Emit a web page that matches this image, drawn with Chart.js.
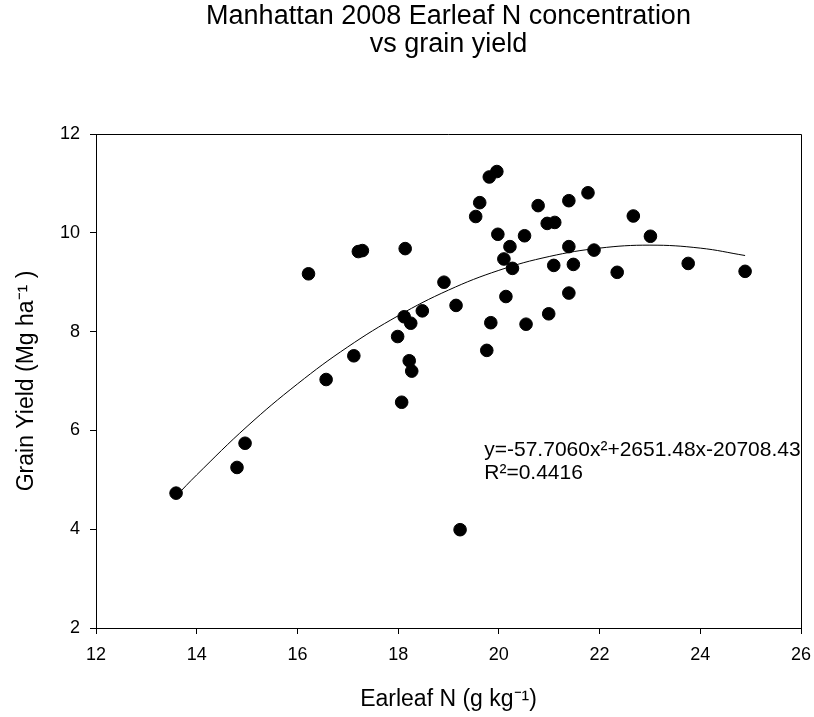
<!DOCTYPE html>
<html>
<head>
<meta charset="utf-8">
<script src="https://cdn.jsdelivr.net/npm/chart.js@4/dist/chart.umd.min.js"></script>
<style>
  html, body { margin: 0; padding: 0; background: #fff; }
  #wrap { width: 814px; height: 717px; position: relative; }
</style>
</head>
<body>
<div id="wrap"><canvas id="c" width="814" height="717"></canvas></div>
<script>
// Observed points: earleaf N (g kg-1) and grain yield (Mg ha-1)
const earleafN = [
  16.22, 17.21, 17.29, 18.14, 18.91, 19.15, 18.48, 18.12, 18.25, 17.99,
  17.12, 18.22, 18.27, 16.57, 18.07, 14.96, 14.80, 13.59, 19.23,
  19.96, 19.81, 19.62, 19.54, 20.78, 21.39, 21.77, 20.96, 21.11, 19.98,
  20.51, 22.67, 23.01, 20.22, 21.39, 21.89, 20.10, 20.27, 21.09, 21.48,
  22.35, 23.76, 24.89, 20.14, 21.39, 20.99, 19.84, 20.54, 19.76
];
const grainYield = [
  9.17, 9.62, 9.64, 9.68, 9.00, 8.53, 8.42, 8.30, 8.17, 7.90,
  7.51, 7.41, 7.20, 7.03, 6.57, 5.74, 5.25, 4.73, 3.99,
  11.24, 11.13, 10.61, 10.33, 10.55, 10.65, 10.81, 10.19, 10.21, 9.97,
  9.94, 10.34, 9.93, 9.72, 9.72, 9.65, 9.47, 9.28, 9.34, 9.36,
  9.20, 9.38, 9.22, 8.71, 8.78, 8.36, 8.18, 8.15, 7.62
];
// Fitted curve
const fitX = [13.59, 14, 15, 16, 17, 18, 19, 20, 21, 22, 23, 24, 24.89];
const fitY = [4.67, 5.10, 6.08, 6.94, 7.69, 8.32, 8.84, 9.24, 9.52, 9.69, 9.75, 9.69, 9.54];
const xTicks = [12, 14, 16, 18, 20, 22, 24, 26];
const yTicks = [2, 4, 6, 8, 10, 12];
const titleLines = ['Manhattan 2008 Earleaf N concentration', 'vs grain yield'];
const xTitle = 'Earleaf N (g kg\u207B\u00B9)';
const yTitle = 'Grain Yield (Mg ha\u207B\u00B9 )';
const eqLines = ['y=-57.7060x\u00B2+2651.48x-20708.43', 'R\u00B2=0.4416'];
const eqPos = { x: 19.71, y: 5.48 };

const FONT = '"Liberation Sans", Arial, sans-serif';

const framePlugin = {
  id: 'frame',
  afterDatasetsDraw(chart) {
    const { ctx, chartArea: a, scales } = chart;
    ctx.save();
    ctx.strokeStyle = '#000';
    ctx.lineWidth = 1;
    ctx.beginPath();
    ctx.moveTo(a.left, a.top + 0.5);
    ctx.lineTo(a.right + 0.5, a.top + 0.5);
    ctx.lineTo(a.right + 0.5, a.bottom);
    ctx.stroke();
    // equation text
    ctx.fillStyle = '#000';
    ctx.font = '21px ' + FONT;
    ctx.textBaseline = 'alphabetic';
    ctx.textAlign = 'left';
    const px = scales.x.getPixelForValue(eqPos.x);
    const py = scales.y.getPixelForValue(eqPos.y);
    ctx.fillText(eqLines[0], px, py);
    ctx.fillText(eqLines[1], px, py + 22.6);
    ctx.restore();
  }
};

new Chart(document.getElementById('c'), {
  type: 'scatter',
  data: {
    datasets: [
      {
        label: 'fit',
        type: 'line',
        data: fitX.map((x, i) => ({ x: x, y: fitY[i] })),
        borderColor: '#000',
        borderWidth: 1,
        pointRadius: 0,
        fill: false,
        tension: 0.4,
        order: 2
      },
      {
        label: 'obs',
        data: earleafN.map((x, i) => ({ x: x, y: grainYield[i] })),
        backgroundColor: '#000',
        borderColor: '#000',
        pointRadius: 6.3,
        pointHoverRadius: 6.3,
        order: 1
      }
    ]
  },
  options: {
    responsive: false,
    animation: false,
    events: [],
    layout: { padding: { left: 0, right: 13, top: 0, bottom: 0 } },
    plugins: {
      legend: { display: false },
      tooltip: { enabled: false },
      title: {
        display: true,
        fullSize: false,
        text: titleLines,
        color: '#000',
        font: { family: FONT, size: 27, weight: 'normal', lineHeight: 1.05 },
        padding: { top: 2.4, bottom: 74.9 }
      }
    },
    scales: {
      x: {
        type: 'linear',
        min: 12, max: 26,
        afterBuildTicks(s) { s.ticks = xTicks.map(v => ({ value: v })); },
        afterFit(s) { s.height = 89; s.paddingLeft = 0; s.paddingRight = 0; },
        ticks: { color: '#000', padding: 10, font: { family: FONT, size: 18 } },
        grid: { display: true, drawOnChartArea: false, drawTicks: true, tickLength: 6, tickColor: '#000', tickWidth: 1 },
        border: { display: true, color: '#000', width: 1 },
        title: { display: true, text: xTitle, color: '#000', font: { family: FONT, size: 23 }, padding: { top: 0, bottom: 4 } }
      },
      y: {
        type: 'linear',
        min: 2, max: 12,
        afterBuildTicks(s) { s.ticks = yTicks.map(v => ({ value: v })); },
        afterFit(s) { s.width = 96; },
        ticks: { color: '#000', padding: 10, font: { family: FONT, size: 18 } },
        grid: { display: true, drawOnChartArea: false, drawTicks: true, tickLength: 6, tickColor: '#000', tickWidth: 1 },
        border: { display: true, color: '#000', width: 1 },
        title: { display: true, text: yTitle, color: '#000', font: { family: FONT, size: 23 }, padding: { top: 13, bottom: 0 } }
      }
    }
  },
  plugins: [framePlugin]
});
</script>
</body>
</html>
